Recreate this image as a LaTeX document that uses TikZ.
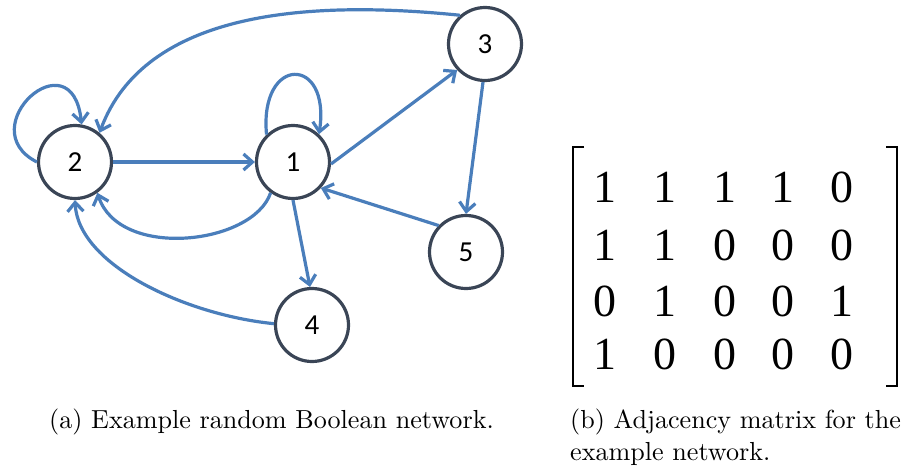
\documentclass[tikz,border=0pt]{standalone}
\usepackage{fontspec}
\usetikzlibrary{arrows.meta}
\newfontfamily\labelfont{Carlito}
\newfontfamily\matfont{Liberation Serif}
\newfontfamily\capfont{lmroman10-regular}[Extension=.otf]
\definecolor{edgeblue}{HTML}{4A7EBB}
\definecolor{ringgray}{HTML}{3A4556}
\tikzset{
  state/.style={circle, draw=ringgray, line width=3.2pt, minimum size=73pt,
    inner sep=0pt, font=\labelfont\fontsize{29}{29}\selectfont},
  link/.style={draw=edgeblue, line width=3.2pt,
    -{Straight Barb[length=9pt,width=16pt]}},
  entry/.style={inner sep=0pt, font=\matfont\fontsize{46}{46}\selectfont},
  bracket/.style={line width=2.2pt, draw=black},
  caption/.style={inner sep=0pt, font=\capfont\fontsize{26.1}{33}\selectfont}
}
\begin{document}
\begin{tikzpicture}[x=1pt,y=-1pt]
\path[use as bounding box] (0,0) rectangle (916,466);

% network states
\node[state] (n1) at (293,162) {1};
\node[state] (n2) at (75,162) {2};
\node[state] (n3) at (485,44) {3};
\node[state] (n4) at (312,325) {4};
\node[state] (n5) at (466,252) {5};

% straight links
\draw[link] (n2.east) -- (n1.west);
\draw[link] (n1.-3) -- (n3.223);
\draw[link] (n3.-93) -- (n5.90);
\draw[link] (n5.136) -- (n1.-43);
\draw[link] (n1.-90) -- (n4.93);

% curved links
\draw[link] (n3.131) .. controls (310,0) and (145,10) .. (n2.50);
\draw[link] (n1.234) .. controls (253,245) and (119,260) .. (n2.306);
\draw[link] (n4.178) .. controls (186,315) and (78,265) .. (n2.270);

% self loops
\draw[link] (n1.134) .. controls (259,55) and (331,55) .. (n1.47);
\draw[link] (n2.180) .. controls (-30,128) and (72,35) .. (n2.80);

% adjacency matrix entries
\node[entry] (m11) at (605,187) {1};
\node[entry] (m12) at (665,187) {1};
\node[entry] (m13) at (725,187) {1};
\node[entry] (m14) at (783,187) {1};
\node[entry] (m15) at (842,187) {0};
\node[entry] (m21) at (605,245) {1};
\node[entry] (m22) at (665,245) {1};
\node[entry] (m23) at (725,245) {0};
\node[entry] (m24) at (783,245) {0};
\node[entry] (m25) at (842,245) {0};
\node[entry] (m31) at (605,301) {0};
\node[entry] (m32) at (665,301) {1};
\node[entry] (m33) at (725,301) {0};
\node[entry] (m34) at (783,301) {0};
\node[entry] (m35) at (842,301) {1};
\node[entry] (m41) at (605,354) {1};
\node[entry] (m42) at (665,354) {0};
\node[entry] (m43) at (725,354) {0};
\node[entry] (m44) at (783,354) {0};
\node[entry] (m45) at (842,354) {0};

% matrix brackets
\draw[bracket] (584,147) -- (573,147) -- (573,386) -- (584,386);
\draw[bracket] (886,147) -- (897,147) -- (897,386) -- (886,386);

% captions
\node[caption, anchor=base west] (capa) at (49,428) {(a) Example random Boolean network.};
\node[caption, anchor=base west] (capb1) at (570,428) {(b) Adjacency matrix for the};
\node[caption, anchor=base west] (capb2) at (570,460) {example network.};
\end{tikzpicture}
\end{document}
